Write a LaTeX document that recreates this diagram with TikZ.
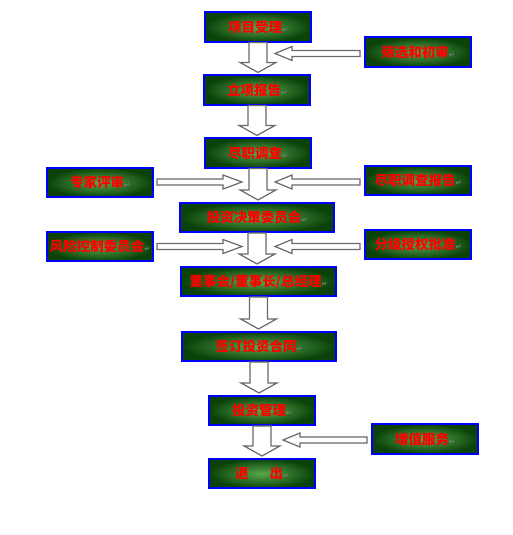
\documentclass[tikz,border=0pt]{standalone}
\usepackage{fontspec}
\newfontfamily\cjk{Noto Sans CJK SC}
\newfontfamily\symf{DejaVu Sans}
\usetikzlibrary{calc}
\definecolor{boxout}{RGB}{10,66,10}
\definecolor{boxin}{RGB}{88,168,76}
\definecolor{boxline}{RGB}{0,0,255}
\definecolor{txtred}{RGB}{255,0,0}
\definecolor{arrline}{RGB}{105,105,105}
\newcommand\pmark{\textcolor{gray}{\symf\fontsize{7pt}{8pt}\selectfont ↵}}
% down block arrow from box #1 to box #2
\newcommand\downblk[2]{%
  \draw[blockarr] ($(#1.south)+(-9,0)$) -- ($(#1.south |- #2.north)+(-9,-12)$)
   -- ($(#1.south |- #2.north)+(-18,-12)$) -- ($(#1.south |- #2.north)+(0,-2)$)
   -- ($(#1.south |- #2.north)+(18,-12)$) -- ($(#1.south |- #2.north)+(9,-12)$)
   -- ($(#1.south)+(9,0)$) -- cycle;}
% left-pointing block arrow from box #1 (west side) to tip #2
\newcommand\leftblk[2]{%
  \draw[blockarr] ($(#1.west |- #2)+(-4,-3)$) -- ($(#2)+(17,-3)$) -- ($(#2)+(17,-7)$)
   -- (#2) -- ($(#2)+(17,7)$) -- ($(#2)+(17,3)$) -- ($(#1.west |- #2)+(-4,3)$) -- cycle;}
% right-pointing block arrow from box #1 (east side) to tip #2
\newcommand\rightblk[2]{%
  \draw[blockarr] ($(#1.east |- #2)+(3,-3)$) -- ($(#2)+(-19,-3)$) -- ($(#2)+(-19,-7)$)
   -- (#2) -- ($(#2)+(-19,7)$) -- ($(#2)+(-19,3)$) -- ($(#1.east |- #2)+(3,3)$) -- cycle;}
\begin{document}
\begin{tikzpicture}[x=1pt,y=-1pt,
  gbox/.style={draw=boxline, line width=1.6pt, inner color=boxin, outer color=boxout,
    minimum width=106.5pt, minimum height=29.5pt, inner sep=0pt,
    text=txtred, font=\cjk\bfseries\fontsize{13.5pt}{15pt}\selectfont},
  wbox/.style={gbox, minimum width=154.5pt},
  blockarr/.style={draw=arrline, line width=1.2pt, fill=white, line join=miter}]
\useasboundingbox (0,0) rectangle (512,535);
\node[gbox] (b1) at (258,27) {项目受理\pmark};
\node[gbox] (b2) at (418,52) {筛选和初审\pmark};
\node[gbox] (b3) at (257,90) {立项报告\pmark};
\node[gbox] (b4) at (258,153) {尽职调查\pmark};
\node[gbox] (b5) at (100,182.5) {专家评审\pmark};
\node[gbox] (b6) at (418,180.5) {尽职调查报告\pmark};
\node[wbox] (b7) at (257,217.5) {投资决策委员会\pmark};
\node[gbox] (b8) at (100,246.5) {风险控制委员会\pmark};
\node[gbox] (b9) at (418,244.5) {分级授权批准\pmark};
\node[wbox] (b10) at (258.5,281.5) {董事会/董事长/总经理\pmark};
\node[wbox] (b11) at (259,346.5) {签订投资合同\pmark};
\node[gbox] (b12) at (262,410.5) {投资管理\pmark};
\node[gbox] (b13) at (425,439) {增值服务\pmark};
\node[gbox] (b14) at (262,473.5) {退\hspace{21pt}出\pmark};
% tips of the side arrows
\coordinate (t2) at (275,53.5);
\coordinate (t5) at (242,182);
\coordinate (t6) at (275,182);
\coordinate (t8) at (242,246.5);
\coordinate (t9) at (275,246.5);
\coordinate (t13) at (283,440);
% down arrows
\downblk{b1}{b3}
\downblk{b3}{b4}
\downblk{b4}{b7}
\downblk{b7}{b10}
\downblk{b10}{b11}
\downblk{b11}{b12}
\downblk{b12}{b14}
% side arrows
\leftblk{b2}{t2}
\rightblk{b5}{t5}
\leftblk{b6}{t6}
\rightblk{b8}{t8}
\leftblk{b9}{t9}
\leftblk{b13}{t13}
\end{tikzpicture}
\end{document}
